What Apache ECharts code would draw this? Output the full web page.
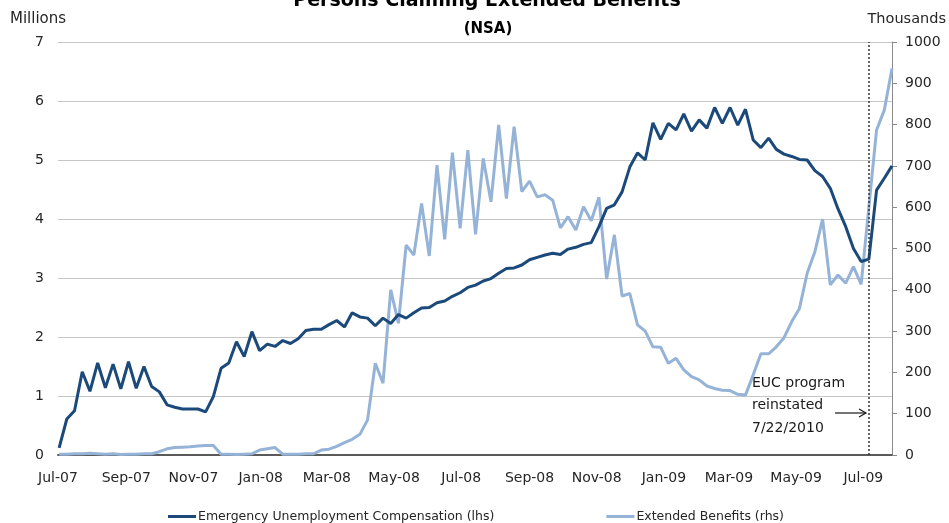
<!DOCTYPE html>
<html>
<head>
<meta charset="utf-8">
<script src="https://cdn.jsdelivr.net/npm/echarts@6/dist/echarts.min.js"></script>
<style>
  html, body { margin: 0; padding: 0; background: #fff; }
  #chart { width: 949px; height: 523px; }
</style>
</head>
<body>
<div id="chart"></div>
<script>
// Weekly claims, first week ending 2 Jul 2007
const firstWeek = '2007-07-02';

// Emergency Unemployment Compensation, millions (left axis)
const eucMillions = [
  0.12, 0.61, 0.75, 1.41, 1.08, 1.56, 1.14, 1.54, 1.12, 1.58,
  1.13, 1.50, 1.16, 1.07, 0.85, 0.81, 0.78, 0.78, 0.78, 0.73,
  0.99, 1.47, 1.56, 1.92, 1.67, 2.09, 1.77, 1.88, 1.84, 1.94,
  1.89, 1.97, 2.11, 2.13, 2.13, 2.21, 2.28, 2.17, 2.41, 2.34,
  2.32, 2.19, 2.32, 2.23, 2.38, 2.32, 2.41, 2.49, 2.50, 2.58,
  2.61, 2.69, 2.75, 2.84, 2.88, 2.95, 2.99, 3.08, 3.16, 3.17,
  3.22, 3.31, 3.35, 3.39, 3.42, 3.40, 3.49, 3.52, 3.57, 3.60,
  3.87, 4.18, 4.24, 4.46, 4.88, 5.12, 5.00, 5.63, 5.35, 5.62,
  5.51, 5.78, 5.49, 5.68, 5.54, 5.89, 5.62, 5.89, 5.59, 5.86,
  5.34, 5.21, 5.37, 5.18, 5.10, 5.06, 5.01, 5.00, 4.82, 4.72,
  4.52, 4.17, 3.87, 3.50, 3.28, 3.32, 4.49, 4.69, 4.90
];

// Extended Benefits, thousands (right axis)
const ebThousands = [
  2, 2, 3, 3, 4, 3, 2, 3, 1, 2,
  2, 3, 3, 8, 15, 18, 19, 20, 22, 23,
  23, 2, 2, 1, 2, 3, 12, 15, 18, 2,
  2, 2, 3, 3, 12, 14, 21, 30, 38, 50,
  85, 222, 174, 400, 319, 508, 484, 609, 482, 702,
  522, 732, 549, 738, 534, 718, 613, 799, 621, 795,
  638, 663, 625, 630, 617, 550, 577, 545, 601, 567,
  624, 426, 533, 385, 391, 315, 300, 262, 261, 222,
  234, 206, 190, 182, 167, 161, 157, 156, 147, 145,
  194, 245, 245, 262, 284, 323, 355, 440, 492, 571,
  412, 436, 416, 456, 413, 600, 787, 835, 936
];

// Bi-monthly date ticks on the x axis
const tickDates = [
  '2007-07-01', '2007-09-01', '2007-11-01', '2008-01-01', '2008-03-01',
  '2008-05-01', '2008-07-01', '2008-09-01', '2008-11-01', '2009-01-01',
  '2009-03-01', '2009-05-01', '2009-07-01'
];
const tickLabels = [
  'Jul-07', 'Sep-07', 'Nov-07', 'Jan-08', 'Mar-08', 'May-08', 'Jul-08',
  'Sep-08', 'Nov-08', 'Jan-09', 'Mar-09', 'May-09', 'Jul-09'
];

// Week at which the EUC program was reinstated
const reinstatedWeek = 105;

// x positions are days counted from the first tick date
const DAY = 86400000;
const toTs = s => Date.parse(s + 'T00:00:00Z');
const origin = toTs(tickDates[0]);
const toDay = s => Math.round((toTs(s) - origin) / DAY);
const startDay = toDay(firstWeek);
const weekDays = eucMillions.map((_, i) => startDay + i * 7);
const tickDays = tickDates.map(toDay);

const FONT = 'DejaVu Sans';
const TEXT = '#262626';

const chart = echarts.init(document.getElementById('chart'), null, { renderer: 'canvas' });

chart.setOption({
  animation: false,
  backgroundColor: '#fff',
  textStyle: { fontFamily: FONT },
  title: [
    {
      text: 'Persons Claiming Extended Benefits',
      left: 482, top: -13, textAlign: 'center',
      textStyle: { fontFamily: FONT, fontSize: 19, fontWeight: 'bold', color: '#000' }
    },
    {
      text: '(NSA)',
      left: 483, top: 17, textAlign: 'center',
      textStyle: { fontFamily: FONT, fontSize: 15, fontWeight: 'bold', color: '#000' }
    }
  ],
  grid: { left: 58, right: 57, top: 42, bottom: 68, containLabel: false },
  legend: {
    left: 168, top: 510, padding: 0,
    itemGap: 112, itemWidth: 28, itemHeight: 3,
    icon: 'rect',
    textStyle: { fontFamily: FONT, fontSize: 12.5, color: TEXT, padding: [0, 0, 0, -3] },
    data: ['Emergency Unemployment Compensation (lhs)', 'Extended Benefits (rhs)']
  },
  xAxis: {
    type: 'value',
    min: tickDays[0],
    max: weekDays[weekDays.length - 1],
    axisLine: { show: true, lineStyle: { color: '#5a5a5a', width: 2 } },
    axisTick: { show: false },
    splitLine: { show: false },
    axisLabel: {
      customValues: tickDays,
      formatter: v => tickLabels[tickDays.indexOf(v)] || '',
      color: TEXT, fontFamily: FONT, fontSize: 14, margin: 16,
      hideOverlap: false
    }
  },
  yAxis: [
    {
      type: 'value', position: 'left',
      min: 0, max: 7, interval: 1,
      axisLine: { show: false },
      axisTick: { show: false },
      splitLine: { show: true, lineStyle: { color: '#c6c6c6', width: 1 } },
      axisLabel: { color: TEXT, fontFamily: FONT, fontSize: 14, margin: 14 }
    },
    {
      type: 'value', position: 'right',
      min: 0, max: 1000, interval: 100,
      axisLine: { show: true, lineStyle: { color: '#8a8a8a', width: 1 } },
      axisTick: { show: true, inside: false, length: 5, lineStyle: { color: '#8a8a8a' } },
      splitLine: { show: false },
      axisLabel: {
        color: TEXT, fontFamily: FONT, fontSize: 14, margin: 13,
        formatter: v => String(v)
      }
    }
  ],
  series: [
    {
      name: 'Emergency Unemployment Compensation (lhs)',
      type: 'line', yAxisIndex: 0, z: 4,
      symbol: 'none', smooth: false,
      color: '#1b4a7a',
      lineStyle: { color: '#1b4a7a', width: 3 },
      data: weekDays.map((d, i) => [d, eucMillions[i]])
    },
    {
      name: 'Extended Benefits (rhs)',
      type: 'line', yAxisIndex: 1, z: 3,
      symbol: 'none', smooth: false,
      color: '#95b3d7',
      lineStyle: { color: '#95b3d7', width: 3 },
      data: weekDays.map((d, i) => [d, ebThousands[i]]),
      markLine: {
        silent: true,
        symbol: ['none', 'none'],
        label: { show: false },
        lineStyle: { type: [2, 2], color: '#333', width: 1.5 },
        data: [{ xAxis: weekDays[reinstatedWeek] }]
      }
    }
  ],
  graphic: [
    {
      type: 'text', left: 10, top: 12,
      style: { text: 'Millions', fill: TEXT, font: '15px "DejaVu Sans"' }
    },
    {
      type: 'text', right: 3, top: 12,
      style: { text: 'Thousands', fill: TEXT, font: '14.5px "DejaVu Sans"' }
    },
    // Reinstatement note with an open arrow pointing at the dotted line
    {
      type: 'text', left: 752, top: 372,
      style: {
        text: 'EUC program\nreinstated\n7/22/2010',
        fill: '#1a1a1a', font: '14px "DejaVu Sans"', lineHeight: 22.5
      }
    },
    {
      type: 'line',
      shape: { x1: 835, y1: 413, x2: 866, y2: 413 },
      style: { stroke: '#1a1a1a', lineWidth: 1.2 }
    },
    {
      type: 'polyline',
      shape: { points: [[859, 409], [866, 413], [859, 417]] },
      style: { stroke: '#1a1a1a', lineWidth: 1.2, fill: null }
    }
  ]
});
</script>
</body>
</html>
